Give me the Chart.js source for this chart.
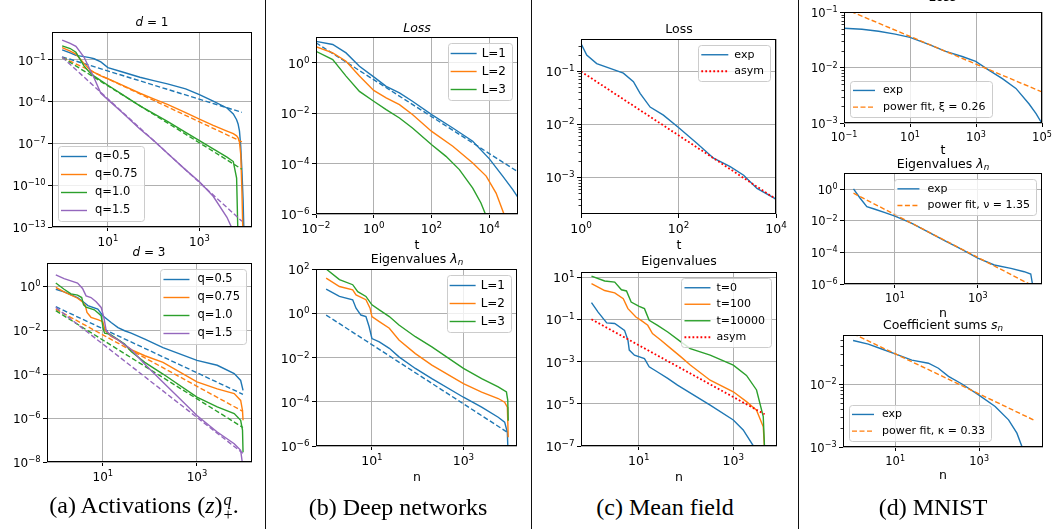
<!DOCTYPE html>
<html>
<head>
<meta charset="utf-8">
<title>Power-law spectra</title>
<script src="https://cdn.jsdelivr.net/npm/chart.js@4.4.1/dist/chart.umd.min.js"></script>
<style>
  body { margin: 0; background: #fff; }
  #fig { position: relative; width: 1055px; height: 529px; overflow: hidden; font-family: "DejaVu Sans", sans-serif; color: #000; }
  #fig canvas { position: absolute; }
  .lbl { position: absolute; transform: translate(-50%, -50%); white-space: nowrap; line-height: 1; }
  .cap { position: absolute; transform: translate(-50%, -50%); white-space: nowrap; line-height: 1; font-family: "Liberation Serif", serif; font-size: 24px; }
  .sep { position: absolute; top: 0; width: 1px; height: 529px; background: #111; }
  .ss { display: inline-block; vertical-align: middle; font-size: 0.68em; line-height: 0.95; text-align: left; margin-left: 1px; }
  .ss span { display: block; }
  sub { font-size: 0.7em; vertical-align: -0.25em; line-height: 0; }
</style>
</head>
<body>
<div id="fig">
  <!-- subplot titles and axis labels -->
  <div class="lbl" style="left:152px;top:22px;font-size:12px"><i>d</i> = 1</div>
  <div class="lbl" style="left:149px;top:252px;font-size:12px"><i>d</i> = 3</div>
  <div class="lbl" style="left:417px;top:28px;font-size:12.5px"><i>Loss</i></div>
  <div class="lbl" style="left:417px;top:245px;font-size:12.5px">t</div>
  <div class="lbl" style="left:417px;top:259px;font-size:12.5px">Eigenvalues <i>λ</i><sub><i>n</i></sub></div>
  <div class="lbl" style="left:417px;top:477px;font-size:12.5px">n</div>
  <div class="lbl" style="left:679px;top:29px;font-size:12.5px">Loss</div>
  <div class="lbl" style="left:679px;top:245px;font-size:12.5px">t</div>
  <div class="lbl" style="left:679px;top:261px;font-size:12.5px">Eigenvalues</div>
  <div class="lbl" style="left:679px;top:477px;font-size:12.5px">n</div>
  <div class="lbl" style="left:943px;top:-3px;font-size:12.5px"><i>Loss</i></div>
  <div class="lbl" style="left:943px;top:150px;font-size:12.5px">t</div>
  <div class="lbl" style="left:943px;top:164px;font-size:12.5px">Eigenvalues <i>λ</i><sub><i>n</i></sub></div>
  <div class="lbl" style="left:943px;top:313px;font-size:12.5px">n</div>
  <div class="lbl" style="left:943px;top:325px;font-size:12.5px">Coefficient sums <i>s</i><sub><i>n</i></sub></div>
  <div class="lbl" style="left:943px;top:475px;font-size:12.5px">n</div>

  <!-- captions -->
  <div class="cap" style="left:144px;top:507px">(a) Activations (<i>z</i>)<span class="ss"><span><i>q</i></span><span>+</span></span>.</div>
  <div class="cap" style="left:398px;top:507px">(b) Deep networks</div>
  <div class="cap" style="left:665px;top:507px">(c) Mean field</div>
  <div class="cap" style="left:933px;top:507px">(d) MNIST</div>

  <div class="sep" style="left:265px"></div>
  <div class="sep" style="left:531px"></div>
  <div class="sep" style="left:798px"></div>
</div>

<script>
// ---------- (a) activations, d = 1 ----------
const d1N = [1, 1.5, 2, 3, 4, 5, 7, 10, 20, 50, 100, 200, 500, 1000, 2000, 4000, 5500, 6500, 7000, 7500, 8000, 8500, 9000, 9500];
const d1Q05 = [0.52, 0.32, 0.21, 0.17, 0.145, 0.12, 0.071, 0.028, 0.014, 0.0056, 0.0032, 0.0019, 8.3e-4, 3.2e-4, 1.1e-4, 3.5e-5, 1.3e-5, 5e-6, 2.5e-6, 7.9e-7, 6.3e-8, 1e-9, 1e-11, 1e-14];
const d1Q075 = [0.76, 0.42, 0.26, 0.056, 0.02, 0.0126, 0.0071, 0.0044, 0.0016, 4e-4, 1.6e-4, 6.3e-5, 1.6e-5, 5.6e-6, 2e-6, 7.6e-7, 5e-7, 3.5e-7, 2.5e-7, 1.26e-7, 1.6e-8, 3.2e-11, 1e-14, null];
const d1Q1 = [1.02, 0.65, 0.35, 0.037, 0.0126, 0.0068, 0.0032, 0.0015, 3.5e-4, 5e-5, 1.4e-5, 3.8e-6, 6.3e-7, 1.6e-7, 4e-8, 1.05e-8, 5e-9, 3.2e-10, 1e-14, null, null, null, null, null];
const d1Q15 = [2.6, 1.55, 0.93, 0.16, 0.022, 0.005, 4e-4, 1.4e-4, 1.8e-5, 1.1e-6, 1.6e-7, 2e-8, 1.26e-9, 1.8e-10, 1.6e-11, 5e-13, 5e-14, null, null, null, null, null, null, null];
const d1FitN = [1, 8500];
const d1FitQ05 = [0.165, 1.7e-5];
const d1FitQ075 = [0.15, 1.3e-7];
const d1FitQ1 = [0.15, 1.4e-9];
const d1FitQ15 = [0.158, 2.6e-13];

// ---------- (a) activations, d = 3 ----------
const d3BlueN = [1, 1.5, 2.9, 4, 4.8, 7.8, 10, 15, 21, 29, 40, 78, 190, 1000, 2700, 6200, 8500, 9550];
const d3BlueV = [0.72, 0.55, 0.30, 0.18, 0.13, 0.089, 0.045, 0.022, 0.013, 0.0093, 0.0072, 0.0039, 0.0016, 4.2e-4, 2.5e-4, 1.05e-4, 5.1e-5, 1.8e-5];
const d3OrangeN = [1, 1.5, 2.9, 3.7, 4.25, 4.6, 5.6, 7.8, 10, 11.2, 15, 21, 40, 78, 190, 1000, 2700, 6200, 8500, 9300, 9550];
const d3OrangeV = [0.87, 0.55, 0.28, 0.19, 0.13, 0.063, 0.038, 0.030, 0.024, 0.0093, 0.0051, 0.0036, 0.0013, 6.8e-4, 3.4e-4, 4.4e-5, 2.1e-5, 1.3e-5, 6.3e-6, 2.2e-6, 7.9e-7];
const d3GreenN = [1, 1.5, 2.1, 2.9, 3.55, 3.9, 4.4, 6.6, 9.2, 10.2, 10.9, 13.9, 17.8, 29, 40, 78, 190, 1000, 2700, 6200, 8500, 9300, 9550];
const d3GreenV = [1.38, 0.72, 0.44, 0.39, 0.30, 0.14, 0.11, 0.083, 0.045, 0.011, 0.0072, 0.0066, 0.0047, 0.0023, 0.00105, 3.4e-4, 1e-4, 8.9e-6, 3.2e-6, 1.6e-6, 7.9e-7, 2.8e-7, 2.8e-8];
const d3PurpleN = [1, 1.5, 2.9, 3.7, 4.4, 5.6, 7.2, 9.2, 10.5, 11.8, 15, 21, 40, 78, 190, 1000, 2700, 6200, 8500, 9300];
const d3PurpleV = [3.2, 2.2, 1.38, 0.78, 0.36, 0.30, 0.195, 0.107, 0.038, 0.0093, 0.0055, 0.0036, 0.0013, 2.8e-4, 4.2e-5, 1.3e-6, 2.3e-7, 6.8e-8, 3.4e-8, 7.9e-9];
const d3FitN = [1, 9500];
const d3FitQ05 = [0.115, 1.2e-5];
const d3FitQ075 = [0.089, 2.0e-6];
const d3FitQ1 = [0.076, 3.7e-7];
const d3FitQ15 = [0.107, 2.5e-8];

// ---------- (b) deep networks ----------
const lossL1T = [0.01, 0.038, 0.11, 0.32, 1, 2.7, 7.8, 22, 102, 550, 2700, 10200, 29500, 66000, 112000];
const lossL1 = [7.2, 5.4, 2.5, 0.74, 0.28, 0.117, 0.065, 0.030, 0.0089, 0.0026, 7.8e-4, 1.55e-4, 3.2e-5, 9.3e-6, 3.7e-6];
const lossL2T = [0.01, 0.038, 0.11, 0.32, 1, 2.7, 7.8, 22, 102, 550, 2700, 7900, 17400, 31600, 38000];
const lossL2 = [4.4, 2.5, 1.17, 0.30, 0.081, 0.041, 0.022, 0.0089, 0.0019, 4.9e-4, 1.07e-4, 3.2e-5, 6.8e-6, 1.1e-6, 3.2e-7];
const lossL3T = [0.01, 0.038, 0.11, 0.32, 1, 2.7, 7.8, 22, 102, 320, 930, 2700, 5200, 7400, 8900];
const lossL3 = [2.9, 1.35, 0.30, 0.074, 0.030, 0.014, 0.0065, 0.0026, 5.6e-4, 1.95e-4, 5.8e-5, 1.07e-5, 2.75e-6, 1e-6, 4e-7];
const lossFitT = [0.01, 1e5];
const lossFit = [6.3, 4.7e-5];

const eigL1N = [1, 1.95, 3.8, 4.5, 5.75, 7.4, 8.7, 10, 14.5, 24, 39, 89, 204, 1000, 2500, 5750, 7950, 9100, 9500];
const eigL1 = [12.3, 5.75, 4.07, 1.7, 0.83, 0.71, 0.245, 0.072, 0.051, 0.026, 0.0107, 0.0032, 0.0011, 1.6e-4, 5.75e-5, 2e-5, 1.2e-5, 4.2e-6, 3.2e-7];
const eigL2N = [1, 1.95, 3.8, 4.5, 7.4, 9.1, 10, 14.5, 24, 39, 89, 204, 1000, 2500, 5750, 7950, 9100, 9300, 9500];
const eigL2 = [38.9, 16.2, 11.5, 6.8, 4.1, 1.7, 0.71, 0.42, 0.21, 0.062, 0.015, 0.0045, 6.6e-4, 2.75e-4, 1.4e-4, 9.5e-5, 5.75e-5, 1.4e-5, 2.5e-6];
const eigL3N = [1, 1.95, 3.8, 4.9, 7.4, 10, 14.5, 24, 39, 89, 204, 1000, 2500, 5750, 8700, 9300, 9500];
const eigL3 = [100, 33, 19.5, 9.5, 5.75, 2.4, 1.41, 0.71, 0.295, 0.087, 0.03, 0.0032, 0.0011, 4.7e-4, 2.75e-4, 1.15e-4, 1.4e-5];
const eigFitN = [1, 9100];
const eigFit = [0.83, 4.2e-6];

// ---------- (c) mean field ----------
const mfLossT = [1, 1.31, 2.1, 3.95, 7.4, 11.9, 16.3, 26.2, 49, 100, 238, 524, 1150, 2170, 4070, 10000];
const mfLossExp = [0.33, 0.2, 0.138, 0.112, 0.091, 0.063, 0.038, 0.021, 0.0148, 0.0087, 0.0044, 0.0023, 0.0016, 0.0011, 6.2e-4, 3.9e-4];
const mfLossAsymT = [1, 10000];
const mfLossAsym = [0.098, 3.9e-4];

const mfN0 = [1, 1.38, 2.1, 3.1, 5, 5.9, 6.3, 8.1, 13.2, 16.6, 25, 41, 66, 324, 1000, 1620, 2630, 3020];
const mfEig0 = [0.62, 0.22, 0.068, 0.063, 0.03, 0.0102, 0.0035, 0.002, 0.00138, 5.6e-4, 3.2e-4, 1.6e-4, 7.6e-5, 8.7e-6, 1.7e-6, 5.75e-7, 1.05e-7, 4e-8];
const mfN100 = [1, 1.9, 3.1, 4.7, 5.9, 8.7, 11.2, 15.5, 19.5, 29.5, 48, 78, 123, 324, 1000, 1900, 3100, 4300, 4600];
const mfEig100 = [4.9, 2.3, 1.8, 0.95, 0.32, 0.129, 0.089, 0.052, 0.021, 0.0102, 0.0041, 0.00166, 6.8e-4, 1.3e-4, 3.7e-5, 1.26e-5, 5e-6, 8.1e-7, 6.3e-8];
const mfN10000 = [1, 1.9, 3.1, 4.3, 5.5, 6.9, 10.2, 13.2, 16.6, 25, 41, 78, 123, 324, 1000, 1900, 3100, 4300, 4600];
const mfEig10000 = [11.2, 6.5, 5.75, 2.5, 2.2, 0.66, 0.41, 0.32, 0.089, 0.052, 0.025, 0.0085, 0.0041, 0.002, 6.8e-4, 2.2e-4, 4.5e-5, 2.5e-6, 6.3e-8];
const mfAsymN = [1, 4600];
const mfAsym = [0.1, 3.2e-6];

// ---------- (d) MNIST ----------
const mnLossT = [0.1, 0.35, 1.12, 3.55, 10, 37, 120, 380, 980, 2510, 6300, 16200, 40700, 66000, 100000];
const mnLossExp = [0.051, 0.049, 0.045, 0.040, 0.035, 0.026, 0.0195, 0.0158, 0.0129, 0.0089, 0.0063, 0.0042, 0.0022, 0.00148, 9.8e-4];
const mnLossFitT = [0.1, 1e5];
const mnLossFit = [0.115, 0.00363];

const mnEigN = [1, 1.45, 2.1, 3.3, 5.75, 10, 25, 63, 158, 400, 1000, 2500, 6300, 13200, 19000, 20900, 21400];
const mnEig = [1.05, 0.27, 0.079, 0.054, 0.033, 0.02, 0.0071, 0.002, 5.6e-4, 1.6e-4, 4.4e-5, 1.6e-5, 9.8e-6, 6e-6, 4.3e-6, 1e-6, 3.2e-7];
const mnEigFitN = [1, 21000];
const mnEigFit = [0.56, 7.8e-7];

const mnSumN = [1, 2.3, 4.8, 10, 25, 62, 107, 186, 390, 950, 2400, 5000, 7900, 10500, 12600];
const mnSum = [0.049, 0.043, 0.036, 0.030, 0.024, 0.0214, 0.0178, 0.0132, 0.01, 0.0068, 0.0044, 0.0027, 0.00166, 0.001, 6.3e-4];
const mnSumFitN = [1, 19500];
const mnSumFit = [0.063, 0.0027];

// ---------- helpers ----------
const BLUE = '#1f77b4', ORANGE = '#ff7f0e', GREEN = '#2ca02c', PURPLE = '#9467bd', RED = '#ff0000';
const FONT = '"DejaVu Sans"';

function line(label, xs, ys, color, style) {
  return {
    label: label || '',
    data: xs.map((x, i) => ({ x, y: ys[i] })),
    borderColor: color,
    borderWidth: style === 'dot' ? 1.8 : 1.4,
    borderDash: style === 'dash' ? [5, 2.5] : style === 'dot' ? [1.8, 2.2] : [],
    borderCapStyle: 'butt',
    pointRadius: 0,
    fill: false,
    clip: 0,
    spanGaps: false
  };
}

// matplotlib style box around the axes
const frame = {
  id: 'frame',
  afterDatasetsDraw(chart) {
    const a = chart.chartArea, ctx = chart.ctx;
    ctx.save();
    ctx.strokeStyle = '#000';
    ctx.lineWidth = 1;
    ctx.strokeRect(a.left + 0.5, a.top + 0.5, a.right - a.left - 1, a.bottom - a.top - 1);
    ctx.restore();
  }
};

// small minor ticks on the y axis (only where every decade is labelled)
const minorTicks = {
  id: 'minorTicks',
  afterDraw(chart, args, o) {
    if (!o.on) return;
    const s = chart.scales.y, ctx = chart.ctx, x0 = chart.chartArea.left;
    ctx.save();
    ctx.strokeStyle = '#000';
    ctx.lineWidth = 0.8;
    for (let e = Math.floor(Math.log10(s.min)); e <= Math.ceil(Math.log10(s.max)); e++) {
      for (let k = 2; k <= 9; k++) {
        const v = k * Math.pow(10, e);
        if (v <= s.min || v >= s.max) continue;
        const y = Math.round(s.getPixelForValue(v)) + 0.5;
        ctx.beginPath();
        ctx.moveTo(x0, y);
        ctx.lineTo(x0 - 2.5, y);
        ctx.stroke();
      }
    }
    ctx.restore();
  }
};

// tick labels as 10 with a raised exponent, like matplotlib mathtext
const powerLabels = {
  id: 'powerLabels',
  afterDraw(chart) {
    const ctx = chart.ctx, a = chart.chartArea;
    ctx.save();
    ctx.fillStyle = '#000';
    ctx.textBaseline = 'alphabetic';
    ctx.textAlign = 'left';
    ['x', 'y'].forEach(id => {
      const s = chart.scales[id];
      const fs = s.options.ticks.font.size;
      s.ticks.forEach(t => {
        const e = Math.round(Math.log10(t.value));
        const base = '10', ex = (e < 0 ? '−' : '') + Math.abs(e);
        ctx.font = fs + 'px ' + FONT;
        const bw = ctx.measureText(base).width;
        ctx.font = (fs * 0.7) + 'px ' + FONT;
        const ew = ctx.measureText(ex).width;
        const p = s.getPixelForValue(t.value);
        let x0, yb;
        if (id === 'y') { x0 = a.left - 6.5 - bw - ew; yb = p + 0.4 * fs; }
        else { x0 = p - (bw + ew) / 2; yb = a.bottom + 9 + 0.8 * fs; }
        ctx.font = fs + 'px ' + FONT;
        ctx.fillText(base, x0, yb);
        ctx.font = (fs * 0.7) + 'px ' + FONT;
        ctx.fillText(ex, x0 + bw, yb - 0.4 * fs);
      });
    });
    ctx.restore();
  }
};

// legend drawn inside the axes like matplotlib
const mplLegend = {
  id: 'mplLegend',
  afterDraw(chart, args, o) {
    if (!o.loc) return;
    const ctx = chart.ctx, a = chart.chartArea;
    const items = chart.data.datasets.filter(d => d.label);
    ctx.save();
    ctx.font = o.size + 'px ' + FONT;
    const tw = Math.max(...items.map(d => ctx.measureText(d.label).width));
    const w = 3 + o.handle + o.gap + tw + 6;
    const h = items.length * o.row + 3;
    const m = 6;
    const x = o.loc.includes('left') ? a.left + m : a.right - m - w;
    const y = o.loc.includes('upper') ? a.top + m : a.bottom - m - h;
    ctx.beginPath();
    ctx.roundRect(Math.round(x) + 0.5, Math.round(y) + 0.5, Math.round(w), Math.round(h), 3);
    ctx.fillStyle = 'rgba(255,255,255,0.8)';
    ctx.fill();
    ctx.strokeStyle = '#cccccc';
    ctx.lineWidth = 1;
    ctx.stroke();
    items.forEach((d, i) => {
      const cy = y + 1.5 + o.row * (i + 0.5);
      ctx.beginPath();
      ctx.setLineDash(d.borderDash || []);
      ctx.strokeStyle = d.borderColor;
      ctx.lineWidth = d.borderWidth;
      ctx.moveTo(x + 3, cy);
      ctx.lineTo(x + 3 + o.handle, cy);
      ctx.stroke();
      ctx.setLineDash([]);
      ctx.fillStyle = '#000';
      ctx.textBaseline = 'middle';
      ctx.fillText(d.label, x + 3 + o.handle + o.gap, cy);
    });
    ctx.restore();
  }
};

const YW = 56, PT = 10, PR = 16, XH = 22;

function axis(range, ticks, size, isY) {
  return {
    type: 'logarithmic',
    min: range[0],
    max: range[1],
    afterBuildTicks: s => { s.ticks = ticks.map(v => ({ value: v })); },
    afterFit: s => {
      if (isY) { s.width = YW; s.paddingTop = 0; s.paddingBottom = 0; }
      else { s.height = XH; s.paddingLeft = 0; s.paddingRight = 0; }
    },
    border: { display: false },
    grid: { color: '#b0b0b0', lineWidth: 1, drawTicks: true, tickLength: 4, tickColor: '#000', tickWidth: 1 },
    ticks: { display: false, autoSkip: false, maxRotation: 0, font: { size } }
  };
}

function makeChart(p) {
  const [l, t, r, b] = p.box;
  const w = r - l + YW + PR, h = b - t + PT + XH;
  const fig = document.getElementById('fig');
  const cv = document.createElement('canvas');
  cv.width = w; cv.height = h;
  cv.style.left = (l - YW) + 'px';
  cv.style.top = (t - PT) + 'px';
  cv.style.width = w + 'px';
  cv.style.height = h + 'px';
  fig.insertBefore(cv, fig.firstChild);
  p.series.forEach((s, i) => { s.order = -i; });  // later series on top, as in matplotlib
  return new Chart(cv, {
    type: 'line',
    data: { datasets: p.series },
    options: {
      responsive: false,
      animation: false,
      events: [],
      devicePixelRatio: 1,
      layout: { padding: { top: PT, right: PR, left: 0, bottom: 0 } },
      scales: { x: axis(p.x, p.xt, p.fs, false), y: axis(p.y, p.yt, p.fs, true) },
      plugins: {
        legend: { display: false },
        tooltip: { enabled: false },
        mplLegend: p.legend,
        minorTicks: { on: !!p.minor }
      }
    },
    plugins: [frame, minorTicks, powerLabels, mplLegend]
  });
}

Chart.defaults.font.family = FONT + ', sans-serif';
Chart.defaults.color = '#000';

// (a) top
makeChart({
  box: [52, 32, 252, 227], x: [0.63, 14100], y: [1e-13, 10],
  xt: [10, 1000], yt: [1e-13, 1e-10, 1e-7, 1e-4, 1e-1], fs: 12,
  legend: { loc: 'lower left', size: 11.5, row: 18, handle: 26, gap: 8 },
  series: [
    line('q=0.5', d1N, d1Q05, BLUE), line('', d1FitN, d1FitQ05, BLUE, 'dash'),
    line('q=0.75', d1N, d1Q075, ORANGE), line('', d1FitN, d1FitQ075, ORANGE, 'dash'),
    line('q=1.0', d1N, d1Q1, GREEN), line('', d1FitN, d1FitQ1, GREEN, 'dash'),
    line('q=1.5', d1N, d1Q15, PURPLE), line('', d1FitN, d1FitQ15, PURPLE, 'dash')
  ]
});

// (a) bottom
makeChart({
  box: [47, 263, 252, 462], x: [0.65, 14800], y: [1e-8, 11.2],
  xt: [10, 1000], yt: [1e-8, 1e-6, 1e-4, 1e-2, 1], fs: 12,
  legend: { loc: 'upper right', size: 11.5, row: 18, handle: 26, gap: 8 },
  series: [
    line('q=0.5', d3BlueN, d3BlueV, BLUE), line('', d3FitN, d3FitQ05, BLUE, 'dash'),
    line('q=0.75', d3OrangeN, d3OrangeV, ORANGE), line('', d3FitN, d3FitQ075, ORANGE, 'dash'),
    line('q=1.0', d3GreenN, d3GreenV, GREEN), line('', d3FitN, d3FitQ1, GREEN, 'dash'),
    line('q=1.5', d3PurpleN, d3PurpleV, PURPLE), line('', d3FitN, d3FitQ15, PURPLE, 'dash')
  ]
});

// (b) top
makeChart({
  box: [316, 37, 518, 214], x: [0.01, 1e5], y: [1e-6, 10.7],
  xt: [1e-2, 1, 1e2, 1e4], yt: [1e-6, 1e-4, 1e-2, 1], fs: 12.5,
  legend: { loc: 'upper right', size: 12, row: 18, handle: 26, gap: 5 },
  series: [
    line('L=1', lossL1T, lossL1, BLUE), line('', lossFitT, lossFit, BLUE, 'dash'),
    line('L=2', lossL2T, lossL2, ORANGE),
    line('L=3', lossL3T, lossL3, GREEN)
  ]
});

// (b) bottom
makeChart({
  box: [316, 269, 517, 446], x: [0.63, 14800], y: [1e-6, 100],
  xt: [10, 1000], yt: [1e-6, 1e-4, 1e-2, 1, 100], fs: 12.5,
  legend: { loc: 'upper right', size: 12, row: 18, handle: 26, gap: 5 },
  series: [
    line('L=1', eigL1N, eigL1, BLUE), line('', eigFitN, eigFit, BLUE, 'dash'),
    line('L=2', eigL2N, eigL2, ORANGE),
    line('L=3', eigL3N, eigL3, GREEN)
  ]
});

// (c) top
makeChart({
  box: [581, 39, 776, 214], x: [1, 1e4], y: [2.05e-4, 0.4],
  xt: [1, 100, 1e4], yt: [1e-3, 1e-2, 1e-1], fs: 12.5, minor: true,
  legend: { loc: 'upper right', size: 11, row: 16.5, handle: 27, gap: 6 },
  series: [
    line('exp', mfLossT, mfLossExp, BLUE),
    line('asym', mfLossAsymT, mfLossAsym, RED, 'dot')
  ]
});

// (c) bottom
makeChart({
  box: [581, 272, 777, 446], x: [0.63, 8400], y: [1e-7, 17.4],
  xt: [10, 1000], yt: [1e-7, 1e-5, 1e-3, 1e-1, 10], fs: 12.5,
  legend: { loc: 'upper right', size: 11, row: 16.5, handle: 26, gap: 6 },
  series: [
    line('t=0', mfN0, mfEig0, BLUE),
    line('t=100', mfN100, mfEig100, ORANGE),
    line('t=10000', mfN10000, mfEig10000, GREEN),
    line('asym', mfAsymN, mfAsym, RED, 'dot')
  ]
});

// (d) top
makeChart({
  box: [844, 12, 1042, 123], x: [0.1, 1e5], y: [1e-3, 0.1],
  xt: [0.1, 10, 1000, 1e5], yt: [1e-3, 1e-2, 1e-1], fs: 11.5, minor: true,
  legend: { loc: 'lower left', size: 11, row: 16.7, handle: 22, gap: 8 },
  series: [
    line('exp', mnLossT, mnLossExp, BLUE),
    line('power fit, ξ = 0.26', mnLossFitT, mnLossFit, ORANGE, 'dash')
  ]
});

// (d) middle
makeChart({
  box: [844, 173, 1042, 284], x: [0.59, 35500], y: [1e-6, 10.7],
  xt: [10, 1000], yt: [1e-6, 1e-4, 1e-2, 1], fs: 11.5,
  legend: { loc: 'upper right', size: 11, row: 16.7, handle: 22, gap: 8 },
  series: [
    line('exp', mnEigN, mnEig, BLUE),
    line('power fit, ν = 1.35', mnEigFitN, mnEigFit, ORANGE, 'dash')
  ]
});

// (d) bottom
makeChart({
  box: [843, 335, 1043, 447], x: [0.575, 33000], y: [1e-3, 0.06],
  xt: [10, 1000], yt: [1e-3, 1e-2], fs: 11.5, minor: true,
  legend: { loc: 'lower left', size: 11, row: 16.7, handle: 22, gap: 8 },
  series: [
    line('exp', mnSumN, mnSum, BLUE),
    line('power fit, κ = 0.33', mnSumFitN, mnSumFit, ORANGE, 'dash')
  ]
});
</script>
</body>
</html>
